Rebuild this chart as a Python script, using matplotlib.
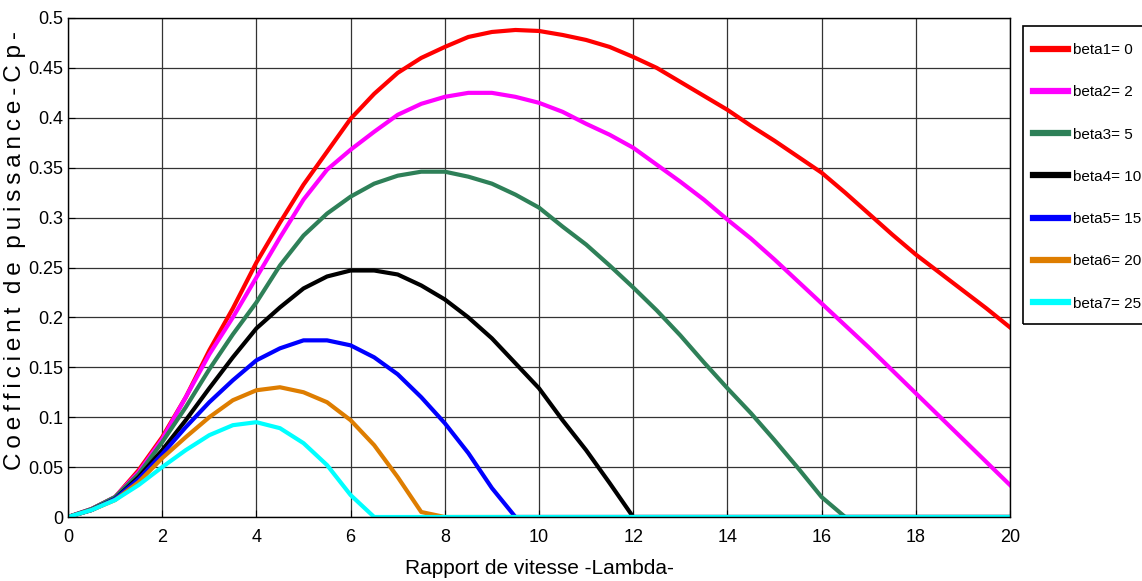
import numpy as np
import matplotlib
matplotlib.use("Agg")
import matplotlib.pyplot as plt
from matplotlib.patches import Rectangle

# Cp curves, lambda step 0.5
lam = np.arange(0, 20.5, 0.5)

cp_b0 = [0, 0.008, 0.02, 0.047, 0.08, 0.12, 0.167, 0.209, 0.255, 0.295, 0.333,
         0.366, 0.399, 0.424, 0.445, 0.46, 0.471, 0.481, 0.486, 0.488, 0.487,
         0.483, 0.478, 0.471, 0.461, 0.45, 0.436, 0.422, 0.408, 0.392, 0.377,
         0.361, 0.345, 0.325, 0.304, 0.283, 0.263, 0.245, 0.227, 0.209, 0.19]
cp_b2 = [0, 0.008, 0.02, 0.045, 0.078, 0.12, 0.163, 0.2, 0.24, 0.28, 0.318,
         0.348, 0.368, 0.386, 0.403, 0.414, 0.421, 0.425, 0.425, 0.421, 0.415,
         0.406, 0.394, 0.383, 0.37, 0.353, 0.336, 0.318, 0.298, 0.279, 0.258,
         0.236, 0.214, 0.192, 0.17, 0.147, 0.124, 0.101, 0.078, 0.055, 0.032]
cp_b5 = [0, 0.008, 0.02, 0.043, 0.075, 0.11, 0.148, 0.183, 0.215, 0.252, 0.282,
         0.304, 0.321, 0.334, 0.342, 0.346, 0.346, 0.341, 0.334, 0.323, 0.31,
         0.291, 0.273, 0.252, 0.23, 0.207, 0.182, 0.155, 0.129, 0.104, 0.077,
         0.049, 0.02, 0, 0, 0, 0, 0, 0, 0, 0]
cp_b10 = [0, 0.007, 0.018, 0.04, 0.067, 0.097, 0.129, 0.16, 0.189, 0.21, 0.229,
          0.241, 0.247, 0.247, 0.243, 0.232, 0.218, 0.2, 0.179, 0.154, 0.129,
          0.097, 0.067, 0.034, 0, 0, 0, 0, 0, 0, 0,
          0, 0, 0, 0, 0, 0, 0, 0, 0, 0]
cp_b15 = [0, 0.007, 0.018, 0.038, 0.063, 0.09, 0.115, 0.137, 0.157, 0.169, 0.177,
          0.177, 0.172, 0.16, 0.143, 0.12, 0.094, 0.064, 0.029, 0, 0,
          0, 0, 0, 0, 0, 0, 0, 0, 0, 0,
          0, 0, 0, 0, 0, 0, 0, 0, 0, 0]
cp_b20 = [0, 0.007, 0.017, 0.035, 0.059, 0.08, 0.1, 0.117, 0.127, 0.13, 0.125,
          0.115, 0.097, 0.072, 0.04, 0.005, 0, 0, 0, 0, 0,
          0, 0, 0, 0, 0, 0, 0, 0, 0, 0,
          0, 0, 0, 0, 0, 0, 0, 0, 0, 0]
cp_b25 = [0, 0.007, 0.017, 0.032, 0.05, 0.067, 0.082, 0.092, 0.095, 0.089, 0.074,
          0.052, 0.022, 0, 0, 0, 0, 0, 0, 0, 0,
          0, 0, 0, 0, 0, 0, 0, 0, 0, 0,
          0, 0, 0, 0, 0, 0, 0, 0, 0, 0]

labels = ["beta1= 0", "beta2= 2", "beta3= 5", "beta4= 10",
          "beta5= 15", "beta6= 20", "beta7= 25"]
colors = ["#ff0000", "#ff00ff", "#2e8058", "#000000",
          "#0000ff", "#de7d00", "#00ffff"]

plt.rcParams['font.family'] = ['Liberation Sans', 'DejaVu Sans']

W, H = 1142, 581
fig = plt.figure(figsize=(W / 100, H / 100), dpi=100)
ax = fig.add_axes([68 / W, 64 / H, 942 / W, 499 / H])

series = [cp_b0, cp_b2, cp_b5, cp_b10, cp_b15, cp_b20, cp_b25]
for s, lab, c in zip(series, labels, colors):
    ax.plot(lam, s, color=c, lw=3, label=lab)

ax.set_xlim(0, 20)
ax.set_ylim(0, 0.5)
ax.set_xticks(np.arange(0, 21, 2))
ax.set_yticks(np.arange(0, 0.51, 0.05))
ax.set_yticklabels(["0", "0.05", "0.1", "0.15", "0.2", "0.25", "0.3",
                    "0.35", "0.4", "0.45", "0.5"])
ax.grid(True, color='#333333', lw=0.9)
ax.tick_params(direction='in', labelsize=13, length=5)
ax.tick_params(axis='x', pad=9)
for sp in ax.spines.values():
    sp.set_linewidth(1)

ax.set_xlabel("Rapport de vitesse -Lambda-", fontsize=15, labelpad=9)
# letter-spaced label, like the original
ylab = "\u2009".join("Coefficient") + "  " + "\u2009".join("de") + "  " + \
    "\u2009".join("puissance-C") + " " + "\u2009".join("p-")
ax.set_ylabel(ylab, fontsize=17.5)
ax.yaxis.set_label_coords(-42 / 942, (517 - 250) / 499)

# legend box drawn by hand (runs off the right edge like the original)
fig.patches.append(Rectangle((1023 / W, 1 - 324 / H), 0.3, 298 / H,
                             transform=fig.transFigure, fill=False,
                             edgecolor='black', lw=1.2))
leg = ax.legend(loc='upper left', bbox_to_anchor=(1033 / W, 1 - 43 / H),
                bbox_transform=fig.transFigure, fontsize=11, frameon=False,
                handlelength=2.3, labelspacing=1.85, borderpad=0,
                handletextpad=0.33, borderaxespad=0)
for h in leg.get_lines():
    h.set_linewidth(4.5)

fig.savefig("out.png", dpi=100)
